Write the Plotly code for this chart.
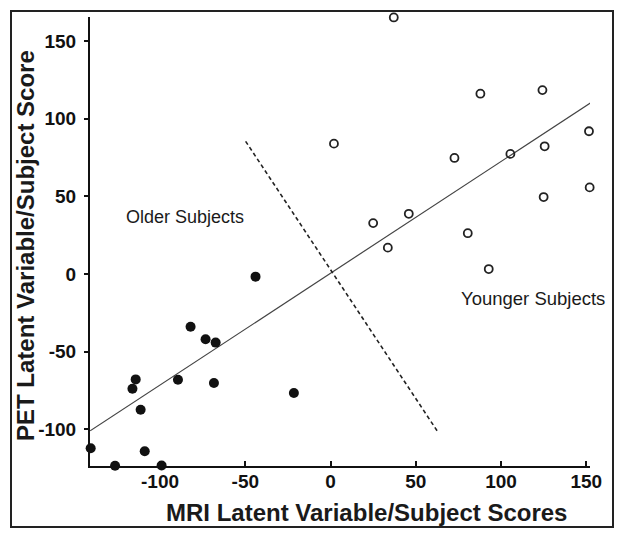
import plotly.graph_objects as go

# Older subjects (filled)
older_x = [-44.0, -82.1, -73.3, -67.4, -89.5, -68.4, -114.3, -116.2, -111.4, -109.0, -140.7, -126.4, -99.1, -21.5]
older_y = [-1.7, -34.0, -42.0, -44.2, -68.1, -70.2, -67.9, -73.9, -87.5, -114.2, -112.3, -123.5, -123.4, -76.7]

# Younger subjects (open)
younger_x = [37.1, 2.0, 87.9, 124.3, 151.6, 72.7, 105.5, 125.6, 152.0, 125.0, 25.0, 45.9, 33.6, 80.5, 92.8]
younger_y = [165.3, 84.0, 116.2, 118.5, 92.0, 74.8, 77.4, 82.3, 55.8, 49.6, 32.8, 38.8, 17.0, 26.3, 3.2]

# Regression line
fit_slope = 0.72
fit_intercept = 0.5
fit_x = [-141.0, 153.0]

# Dashed separator line
sep_x = [-49.8, 62.5]
sep_y = [85.5, -101.0]

x_ticks = [-100, -50, 0, 50, 100, 150]
y_ticks = [-100, -50, 0, 50, 100, 150]

# page body has an 8px default margin; the layout compensates for it
OFF = 8
L, T = 90 - OFF, 17 - OFF
PW, PH = 500, 449

fig = go.Figure()

fig.add_trace(go.Scatter(
    x=fit_x, y=[fit_slope * v + fit_intercept for v in fit_x],
    mode="lines", line=dict(color="#444444", width=1.2),
    showlegend=False, hoverinfo="skip", cliponaxis=False))

fig.add_trace(go.Scatter(
    x=sep_x, y=sep_y, mode="lines",
    line=dict(color="#222222", width=1.6, dash="4px,3px"),
    showlegend=False, hoverinfo="skip", cliponaxis=False))

fig.add_trace(go.Scatter(
    x=older_x, y=older_y, mode="markers",
    marker=dict(symbol="circle", size=10, color="#111111", line=dict(width=0)),
    showlegend=False, cliponaxis=False))

fig.add_trace(go.Scatter(
    x=younger_x, y=younger_y, mode="markers",
    marker=dict(symbol="circle-open", size=8, color="#222222", line=dict(width=1.8)),
    showlegend=False, cliponaxis=False))

fig.add_annotation(x=-85.6, y=37.0, xref="x", yref="y", text="Older Subjects",
                   xanchor="center", yanchor="middle",
                   showarrow=False, font=dict(family="Liberation Sans, Arial", size=18, color="#1a1a1a"))
fig.add_annotation(x=118.7, y=-16.0, xref="x", yref="y", text="Younger Subjects",
                   xanchor="center", yanchor="middle",
                   showarrow=False, font=dict(family="Liberation Sans, Arial", size=18.5, color="#1a1a1a"))


def px(xr):
    return (xr - OFF - L) / PW


def py(yr):
    return (T + PH - (yr - OFF)) / PH


# Axis titles
fig.add_annotation(x=px(366), y=py(513), xref="paper", yref="paper",
                   xanchor="center", yanchor="middle",
                   text="<b>MRI Latent Variable/Subject Scores</b>", showarrow=False,
                   font=dict(family="Liberation Sans, Arial", size=24, color="#1a1a1a"))
fig.add_annotation(x=px(25), y=py(246), xref="paper", yref="paper",
                   xanchor="center", yanchor="middle",
                   text="<b>PET Latent Variable/Subject Score</b>", showarrow=False, textangle=-90,
                   font=dict(family="Liberation Sans, Arial", size=24, color="#1a1a1a"))

# Outer frame
fig.add_shape(type="rect", xref="paper", yref="paper",
              x0=px(11), x1=px(613), y0=py(527), y1=py(11),
              line=dict(color="#222222", width=2), fillcolor="rgba(0,0,0,0)")

tickfont = dict(family="Liberation Sans, Arial", size=19, color="#111111")

fig.update_xaxes(range=[-141.1, 152.2], tickvals=x_ticks, ticktext=[f"<b>{v}</b>" for v in x_ticks],
                 ticks="inside", ticklen=5, tickwidth=2, ticklabelstandoff=-3,
                 tickcolor="#111111", showline=True, linecolor="#111111", linewidth=2,
                 showgrid=False, zeroline=False, tickfont=tickfont)
fig.update_yaxes(range=[-123.7, 165.6], tickvals=y_ticks, ticktext=[f"<b>{v}</b>" for v in y_ticks],
                 ticks="outside", ticklen=4, tickwidth=2, ticklabelstandoff=4,
                 tickcolor="#111111", showline=True, linecolor="#111111", linewidth=2,
                 showgrid=False, zeroline=False, tickfont=tickfont)

fig.update_layout(width=624, height=538,
                  margin=dict(l=L, r=624 - L - PW, t=T, b=538 - T - PH, autoexpand=False),
                  plot_bgcolor="white", paper_bgcolor="white", showlegend=False)

fig.write_html("out.html")
